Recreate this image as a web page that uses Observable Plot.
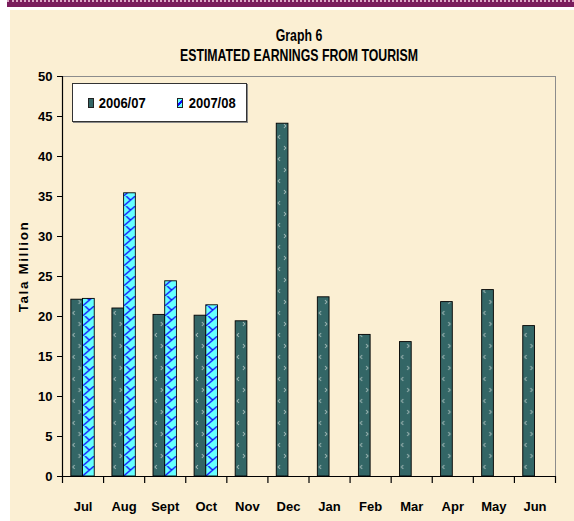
<!DOCTYPE html>
<html>
<head>
<meta charset="utf-8">
<script src="https://cdn.jsdelivr.net/npm/d3@7"></script>
<script src="https://cdn.jsdelivr.net/npm/@observablehq/plot@0.6"></script>
<style>
  html, body { margin: 0; padding: 0; background: #ffffff; }
  body { width: 574px; height: 521px; position: relative; overflow: hidden;
         font-family: "Liberation Sans", Arial, sans-serif; }
  #topbar { position: absolute; left: 7px; top: 0; width: 567px; height: 7px;
            background: #7a1d5c; border-top: 2px dotted #d9a8c4; box-sizing: border-box; }
  #panel { position: absolute; left: 10px; top: 10px; width: 564px; height: 511px;
           background: #fbefd3; }
  #title { position: relative; height: 56px; }
  .tline { position: absolute; left: 7px; width: 564px; text-align: center; font-weight: bold;
           font-size: 12.3px; line-height: 20px; color: #000; }
  .tline span { display: inline-block; transform: scaleY(1.32); }
  #chart svg text:not([transform]) { transform-box: fill-box; transform-origin: center; transform: scaleY(1.22); }
  #legend { position: absolute; left: 61.7px; top: 73.3px; width: 175px; height: 38.4px;
            background: #fff; border: 1px solid #333; box-shadow: 1px 1px 0 #8a8a8a; box-sizing: border-box; }
  .sw { position: absolute; top: 13.4px; width: 6px; height: 10px; box-sizing: border-box; border: 1px solid #222; }
  .lt { position: absolute; top: 8.4px; line-height: 20px; font-size: 13px; font-weight: bold; }
  .lt span { display: inline-block; transform: scaleY(1.15); }
</style>
</head>
<body>
<div id="topbar"></div>
<div id="panel">
  <div id="title">
    <div class="tline" style="top:15.8px"><span id="t1"></span></div>
    <div class="tline" style="top:35.5px"><span id="t2"></span></div>
  </div>
  <div id="chart"></div>
  <div id="legend"></div>
</div>
<script>
// ---- data ----
const titleLine1 = "Graph 6";
const titleLine2 = "ESTIMATED EARNINGS FROM TOURISM";
const yTitle = "Tala Million";
const months = ["Jul", "Aug", "Sept", "Oct", "Nov", "Dec", "Jan", "Feb", "Mar", "Apr", "May", "Jun"];
const seriesNames = ["2006/07", "2007/08"];
const values0607 = [22.1, 21.0, 20.2, 20.1, 19.4, 44.1, 22.4, 17.7, 16.8, 21.8, 23.3, 18.8];
const values0708 = [22.2, 35.4, 24.4, 21.4, null, null, null, null, null, null, null, null];
const yTicks = [0, 5, 10, 15, 20, 25, 30, 35, 40, 45, 50];
const yDomain = [0, 50];

// ---- layout ----
const W = 564, H = 455, mL = 52, mR = 19, mT = 10, mB = 45;
const bw = (W - mL - mR) / months.length;   // band width
const barW = 11.7;
const tickLen = 7 * (yDomain[1] - yDomain[0]) / (H - mT - mB); // 7px in data units

document.getElementById("t1").textContent = titleLine1;
document.getElementById("t2").textContent = titleLine2;

const rowsA = months.map((m, i) => ({month: m, value: values0607[i]})).filter(d => d.value != null);
const rowsB = months.map((m, i) => ({month: m, value: values0708[i]})).filter(d => d.value != null);

const chart = Plot.plot({
  width: W, height: H,
  marginLeft: mL, marginRight: mR, marginTop: mT, marginBottom: mB,
  style: {background: "transparent", fontFamily: "'Liberation Sans', Arial, sans-serif",
          fontSize: "13px", fontWeight: "bold", color: "#000", overflow: "visible"},
  x: {domain: months, padding: 0, round: false, tickSize: 0, tickPadding: 25, label: null},
  y: {domain: yDomain, ticks: yTicks, tickSize: 5, tickPadding: 5, label: null},
  marks: [
    Plot.frame({stroke: "#8c8c8c", strokeWidth: 1}),
    Plot.barY(rowsA, {x: "month", y: "value", fill: "url(#pDark)", stroke: "#000", strokeWidth: 0.9,
                      insetLeft: bw / 2 - barW, insetRight: bw / 2}),
    Plot.barY(rowsB, {x: "month", y: "value", fill: "url(#pCyan)", stroke: "#000", strokeWidth: 0.9,
                      insetLeft: bw / 2, insetRight: bw / 2 - barW}),
    Plot.ruleY([0], {stroke: "#000", strokeWidth: 1.2}),
    Plot.ruleX([months[0]], {y1: yDomain[0], y2: yDomain[1], dx: -bw / 2, stroke: "#000", strokeWidth: 1.2}),
    Plot.ruleX(months, {y1: 0, y2: -tickLen, dx: -bw / 2, stroke: "#000", strokeWidth: 1.2}),
    Plot.ruleX([months[months.length - 1]], {y1: 0, y2: -tickLen, dx: bw / 2, stroke: "#000", strokeWidth: 1.2}),
    Plot.text([yTitle], {frameAnchor: "left", text: d => d, rotate: -90, dx: -38.5, dy: -10,
                         textAnchor: "middle", lineAnchor: "middle", fontSize: 13.5, fontWeight: "bold",
                         fill: "#000", ariaLabel: "ytitle"})
  ]
});

d3.select(chart).insert("defs", ":first-child").html(`
  <pattern id="pDark" patternUnits="userSpaceOnUse" x="${mL}" y="0" width="${bw}" height="22">
    <rect width="${bw}" height="22" fill="#336666"/>
    <path d="M12.6,3 L10.8,5 L12.6,7 M16.6,14 L18.4,16 L16.6,18" stroke="#a8bdbb" stroke-width="1" fill="none"/>
  </pattern>
  <pattern id="pCyan" patternUnits="userSpaceOnUse" x="${mL}" y="0" width="${bw}" height="10">
    <rect width="${bw}" height="10" fill="#66ffff"/>
    <path d="M${bw/2},10 L${bw/2 + barW},0 M${bw/2 + 2.5},0 L${bw/2 + 7},4.3" stroke="#0a0aff" stroke-width="1.3" fill="none"/>
  </pattern>
`);

// spaced-out letters for the rotated y-axis title
d3.select(chart).selectAll("text").filter(function () { return this.textContent === yTitle; })
  .attr("letter-spacing", "1.6px").style("letter-spacing", "1.6px");

document.getElementById("chart").appendChild(chart);

// ---- legend ----
const legend = document.getElementById("legend");
const swStyles = [
  "left:15.6px;background:#336666;",
  "left:104.3px;background:linear-gradient(135deg,#66ffff 0 40%,#0a0aff 40% 60%,#66ffff 60% 100%);"
];
const textLeft = [26, 116];
seriesNames.forEach((name, i) => {
  const sw = document.createElement("div");
  sw.className = "sw";
  sw.setAttribute("style", swStyles[i]);
  legend.appendChild(sw);
  const t = document.createElement("div");
  t.className = "lt";
  t.style.left = textLeft[i] + "px";
  const s = document.createElement("span");
  s.textContent = name;
  t.appendChild(s);
  legend.appendChild(t);
});
</script>
</body>
</html>
